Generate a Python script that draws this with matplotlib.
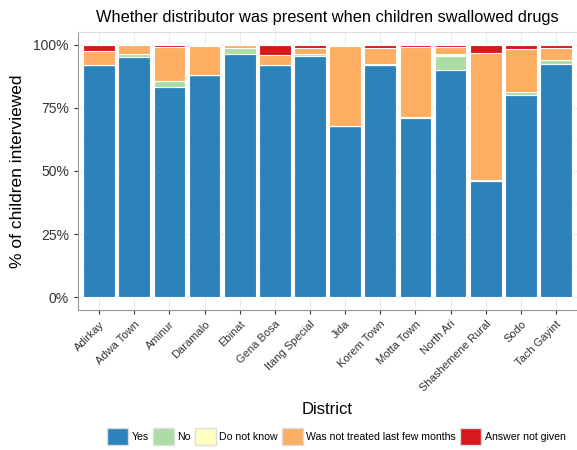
import numpy as np
import matplotlib
matplotlib.use('Agg')
import matplotlib.pyplot as plt
from matplotlib.patches import Patch
from matplotlib.ticker import FuncFormatter, MultipleLocator

plt.rcParams['font.family'] = ['Liberation Sans', 'DejaVu Sans']

districts = ['Adirkay', 'Adwa Town', 'Aminur', 'Daramalo', 'Ebinat', 'Gena Bosa',
             'Itang Special', 'Jida', 'Korem Town', 'Motta Town', 'North Ari',
             'Shashemene Rural', 'Sodo', 'Tach Gayint']

yes = [91.8, 95.0, 83.2, 88.0, 96.3, 92.1, 95.4, 67.9, 91.7, 70.7, 90.0, 46.1, 80.2, 92.5]
no = [0.3, 1.3, 2.2, 0.0, 2.4, 0.0, 0.7, 0.0, 0.0, 0.5, 5.4, 0.3, 1.1, 1.3]
dont_know = [0.0, 0.0, 0.0, 0.0, 0.0, 0.0, 0.0, 0.0, 0.5, 0.0, 0.7, 0.0, 0.0, 0.0]
not_treated = [5.3, 3.7, 13.7, 11.5, 1.3, 3.7, 2.6, 31.6, 6.3, 27.7, 3.0, 50.3, 16.9, 4.9]
no_answer = [2.6, 0.0, 0.8, 0.5, 0.0, 4.2, 1.3, 0.5, 1.3, 0.9, 0.9, 3.3, 1.8, 1.3]

labels = ['Yes', 'No', 'Do not know', 'Was not treated last few months', 'Answer not given']
colors = ['#2b83ba', '#abdda4', '#ffffbf', '#fdae61', '#d7191c']

series = np.array([yes, no, dont_know, not_treated, no_answer])
series = series / series.sum(axis=0)

fig = plt.figure(figsize=(5.77, 4.5), dpi=100)
ax = fig.add_axes([0.1352, 0.3111, 0.865, 0.6178])

x = np.arange(1, len(districts) + 1)
bottom = np.zeros(len(districts))
for vals, lab, col in zip(series, labels, colors):
    ax.bar(x, vals, 0.9, bottom=bottom, color=col, edgecolor='white', linewidth=0.8, label=lab, zorder=3)
    bottom += vals

ax.set_xlim(0.4, len(districts) + 0.6)
ax.set_ylim(-0.05, 1.05)
ax.yaxis.set_major_locator(MultipleLocator(0.25))
ax.yaxis.set_minor_locator(MultipleLocator(0.125))
ax.yaxis.set_major_formatter(FuncFormatter(lambda v, p: '%d%%' % round(v * 100)))
ax.set_xticks(x)
ax.set_xticklabels(districts, rotation=45, ha='right', rotation_mode='anchor', fontsize=8, color='#333333')
ax.tick_params(axis='y', labelsize=10, labelcolor='#333333', color='#333333', length=3)
ax.tick_params(axis='x', color='#333333', length=3)
ax.tick_params(which='minor', length=0)

ax.grid(True, which='major', color='#ebebeb', linewidth=0.8, zorder=0)
ax.grid(True, which='minor', axis='y', color='#f5f5f5', linewidth=0.5, zorder=0)
for side in ['top', 'right']:
    ax.spines[side].set_color('#dddddd')
for side in ['left', 'bottom']:
    ax.spines[side].set_color('#999999')

ax.set_title('Whether distributor was present when children swallowed drugs', fontsize=11.8, pad=7)
ax.set_ylabel('% of children interviewed', fontsize=12.5, labelpad=6)
ax.set_xlabel('District', fontsize=12, labelpad=6)

handles = [Patch(facecolor=c, edgecolor='#dddddd', label=l) for c, l in zip(colors, labels)]
fig.legend(handles=handles, loc='center', bbox_to_anchor=(0.583, 0.03), ncol=5, frameon=False,
           fontsize=7.6, handlelength=2.0, handleheight=2.0, handletextpad=0.3, columnspacing=0.4)

fig.savefig('out.png', dpi=100)
